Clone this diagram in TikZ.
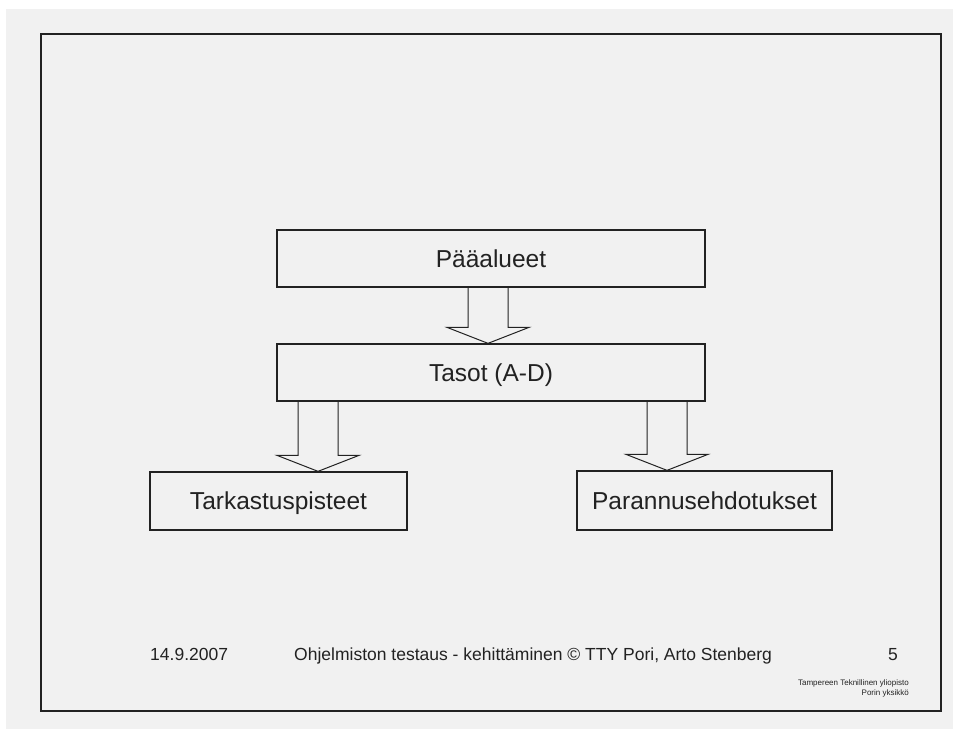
\documentclass[tikz,border=0pt]{standalone}
\usepackage{fontspec}
\setmainfont{Liberation Sans}
\usetikzlibrary{calc}
\definecolor{slidebg}{HTML}{F1F1F1}
\definecolor{ink}{HTML}{222222}
\tikzset{
  levelbox/.style={draw=ink, line width=1.3pt, fill=slidebg, minimum width=#1, inner sep=0pt,
    text height=17.2pt, text depth=0pt,
    font=\fontsize{24.5}{28}\selectfont, text=ink},
  levelbox/.default=428pt,
  barrow/.style={draw=ink, line width=1pt},
  foot/.style={font=\fontsize{17.5}{20}\selectfont, text=ink, inner sep=0pt},
}
% hollow block arrow: shaft from #1 straight down to the tip at #2
\newcommand{\hollowarrow}[2]{%
  \draw[barrow] let \p1=(#1), \p2=(#2) in
    (\x1-20pt,\y1) -- (\x1-20pt,\y2+16pt) -- (\x1-41pt,\y2+16pt) -- (\x1,\y2)
    -- (\x1+41pt,\y2+16pt) -- (\x1+20pt,\y2+16pt) -- (\x1+20pt,\y1);}
\begin{document}
\begin{tikzpicture}[x=1pt,y=-1pt]
  % page and slide
  \fill[white] (0,0) rectangle (953,729);
  \fill[slidebg] (6,9) rectangle (953,729);
  \useasboundingbox (0,0) rectangle (953,729);
  \draw[ink, line width=1.5pt] (41,34) rectangle (941,711);

  % boxes
  \node[levelbox=428pt, minimum height=57pt] (pa) at (491,258.5) {Pääalueet};
  \node[levelbox=428pt, minimum height=57pt] (ta) at (491,372.5) {Tasot (A-D)};
  \node[levelbox=257pt, minimum height=58pt] (tp) at (278.5,501) {Tarkastuspisteet};
  \node[levelbox=255pt, minimum height=59pt] (pe) at (704.5,500.5) {Parannusehdotukset};

  % arrows
  \coordinate (a1) at (488,0);
  \coordinate (a2) at (318,0);
  \coordinate (a3) at (667,0);
  \hollowarrow{a1 |- pa.south}{a1 |- ta.north}
  \hollowarrow{a2 |- ta.south}{a2 |- tp.north}
  \hollowarrow{a3 |- ta.south}{a3 |- pe.north}

  % footer
  \node[foot, anchor=base west] (date) at (150,660) {14.9.2007};
  \node[foot, anchor=base west] (title) at (294,660) {Ohjelmiston testaus - kehittäminen © TTY Pori, Arto Stenberg};
  \node[foot, anchor=base east] (num) at (898,660) {5};
  \node[font=\fontsize{8}{10}\selectfont, text=ink, align=right, anchor=north east, inner sep=0pt]
    (org) at (909,679) {Tampereen Teknillinen yliopisto\\Porin yksikkö};
\end{tikzpicture}
\end{document}
